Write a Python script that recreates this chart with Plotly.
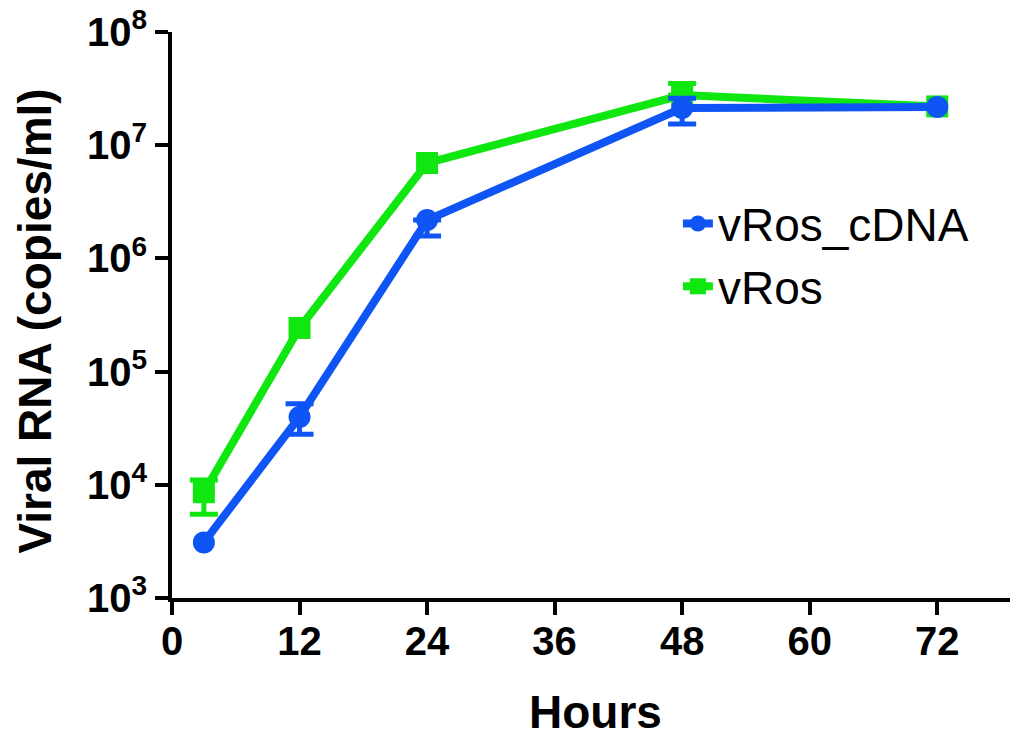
import plotly.graph_objects as go

hours = [3, 12, 24, 48, 72]

cdna_mean = [3.1e3, 3.97e4, 2.18e6, 2.13e7, 2.18e7]
# None = error bar hidden behind the marker in the reference
cdna_upper = [None, 5.2e4, None, 2.6e7, None]
cdna_lower = [None, 2.8e4, 1.58e6, 1.54e7, None]

vros_mean = [8.6e3, 2.43e5, 6.96e6, 2.77e7, 2.2e7]
vros_upper = [1.1e4, None, None, 3.5e7, None]
vros_lower = [5.5e3, None, None, None, None]

x_ticks = [0, 12, 24, 36, 48, 60, 72]
y_tickvals = [1e3, 1e4, 1e5, 1e6, 1e7, 1e8]
y_ticktext = ["10<sup>3</sup>", "10<sup>4</sup>", "10<sup>5</sup>",
              "10<sup>6</sup>", "10<sup>7</sup>", "10<sup>8</sup>"]

BLUE = "#0F55F5"
GREEN = "#10E610"
FONT = "Arial, 'Liberation Sans', sans-serif"


def err_subset(x, mean, upper, lower):
    xs, ys, up, dn = [], [], [], []
    for xi, m, u, l in zip(x, mean, upper, lower):
        if u is None and l is None:
            continue
        xs.append(xi)
        ys.append(m)
        up.append(0 if u is None else u - m)
        dn.append(0 if l is None else m - l)
    return xs, ys, up, dn


def add_series(name, mean, upper, lower, color, symbol):
    xs, ys, up, dn = err_subset(hours, mean, upper, lower)
    fig.add_trace(go.Scatter(
        x=xs, y=ys, mode="markers", showlegend=False, hoverinfo="skip",
        marker=dict(size=1, opacity=0, color=color),
        error_y=dict(type="data", symmetric=False, array=up, arrayminus=dn,
                     color=color, thickness=5, width=14),
    ))
    fig.add_trace(go.Scatter(
        x=hours, y=mean, name=name, mode="lines+markers",
        line=dict(color=color, width=8),
        marker=dict(symbol=symbol, size=22, color=color),
    ))


fig = go.Figure()
add_series("vRos", vros_mean, vros_upper, vros_lower, GREEN, "square")
add_series("vRos_cDNA", cdna_mean, cdna_upper, cdna_lower, BLUE, "circle")

fig.update_layout(
    width=1010, height=728,
    margin=dict(l=164, r=0, t=24, b=138),
    paper_bgcolor="white", plot_bgcolor="white",
    font=dict(family=FONT, color="black"),
    showlegend=True,
    legend=dict(
        x=0.598, y=0.726, xanchor="left", yanchor="top",
        traceorder="reversed",
        font=dict(family=FONT, size=46, color="black"),
        bgcolor="rgba(0,0,0,0)",
        itemsizing="trace",
    ),
    xaxis=dict(
        range=[0, 79.6],
        tickmode="array", tickvals=x_ticks,
        ticks="outside", ticklen=13, tickwidth=4, tickcolor="black",
        showline=True, linewidth=4, linecolor="black",
        showgrid=False, zeroline=False, automargin=False,
        ticklabelstandoff=-8, ticklabeloverflow="allow",
        tickfont=dict(family=FONT, size=40, color="black", weight="bold"),
    ),
    yaxis=dict(
        type="log", range=[3, 8],
        tickmode="array", tickvals=y_tickvals, ticktext=y_ticktext,
        ticks="outside", ticklen=13, tickwidth=4, tickcolor="black",
        showline=True, linewidth=4, linecolor="black",
        showgrid=False, zeroline=False, automargin=False,
        ticklabeloverflow="allow",
        tickfont=dict(family=FONT, size=40, color="black", weight="bold"),
    ),
    annotations=[
        dict(text="<b>Hours</b>", xref="paper", yref="paper",
             x=0.5, y=-0.201, xanchor="center", yanchor="middle",
             showarrow=False, font=dict(family=FONT, size=46, color="black")),
        dict(text="<b>Viral RNA (copies/ml)</b>", xref="paper", yref="paper",
             x=-0.162, y=0.49, xanchor="center", yanchor="middle",
             textangle=-90, showarrow=False,
             font=dict(family=FONT, size=46, color="black")),
    ],
)

fig.write_html("out.html")
